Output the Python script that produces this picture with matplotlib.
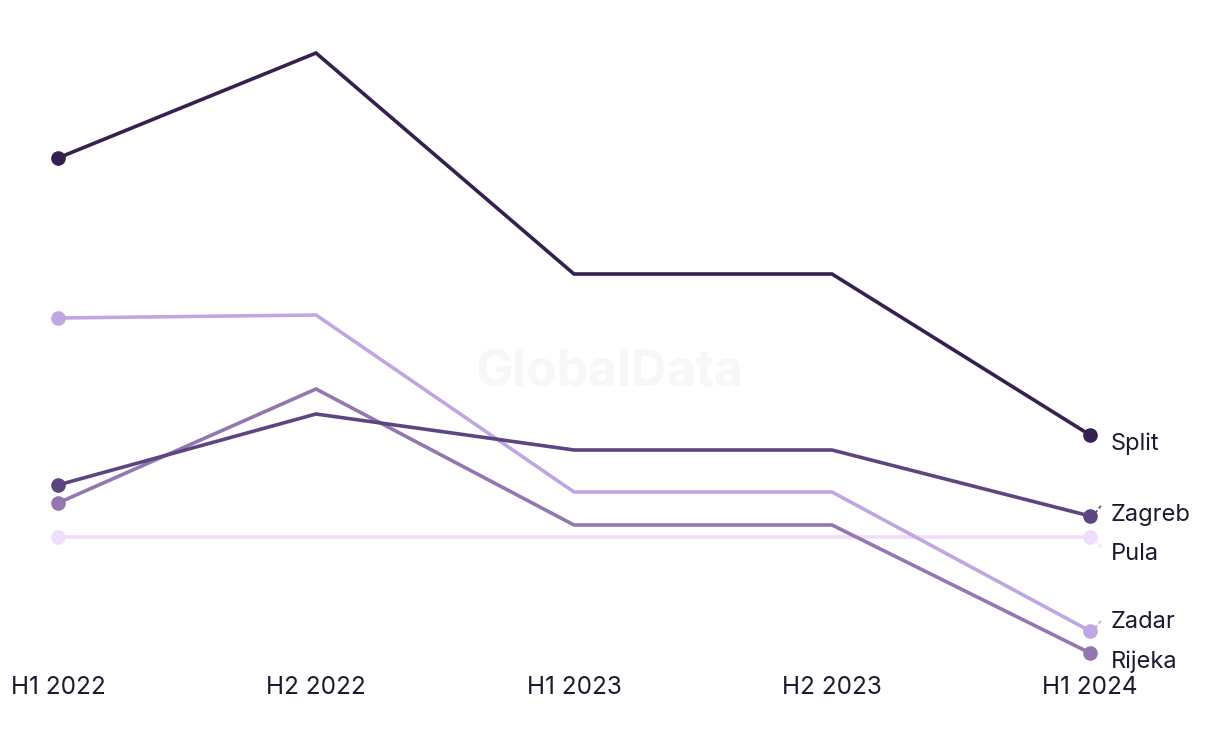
import matplotlib.pyplot as plt

plt.rcParams['font.family'] = ['Inter', 'DejaVu Sans']

periods = ['H1 2022', 'H2 2022', 'H1 2023', 'H2 2023', 'H1 2024']
cities = ['Pula', 'Rijeka', 'Zadar', 'Zagreb', 'Split']
values = {
    'Split':  [54.2, 64.7, 42.6, 42.6, 26.5],
    'Zadar':  [38.2, 38.5, 20.8, 20.8, 6.9],
    'Zagreb': [21.5, 28.6, 25.0, 25.0, 18.4],
    'Rijeka': [19.7, 31.1, 17.5, 17.5, 4.7],
    'Pula':   [16.3, 16.3, 16.3, 16.3, 16.3],
}
colors = {
    'Split': '#35204f',
    'Zagreb': '#5d4580',
    'Rijeka': '#9277b0',
    'Zadar': '#c0a6e2',
    'Pula': '#f0dcfb',
}
# label placement (data units) at the right end, to avoid overlaps
label_y = {'Split': 25.9, 'Zagreb': 18.8, 'Pula': 14.9, 'Zadar': 8.1, 'Rijeka': 4.1}
leaders = ['Zagreb', 'Pula', 'Zadar']

fig = plt.figure(figsize=(12.2, 7.44), dpi=100)
ax = fig.add_axes([0, 79 / 744, 1, 665 / 744])

x = list(range(len(periods)))
for c in cities:
    ax.plot(x, values[c], color=colors[c], lw=2.6, marker='o', ms=9.5,
            markevery=[0, len(x) - 1], solid_joinstyle='miter', zorder=3)
    y_end = values[c][-1]
    ly = label_y[c] - 0.25
    if c in leaders:
        sgn = 1 if ly > y_end else -1
        ax.plot([x[-1] + 0.02, x[-1] + 0.048], [y_end + sgn * 0.3, y_end + sgn * 1.2],
                color=colors[c], lw=1.2, ls=(0, (2, 1.5)), zorder=2)
    ax.text(x[-1] + 0.08, ly, c, fontsize=17, color='#1b1b2f', va='center', ha='left')

ax.text(2.14, 32.7, 'GlobalData', fontsize=36, fontweight='bold', color='#f7f7f7',
        ha='center', va='center', zorder=0)

ax.set_xlim(-58 / 258, 4 + 130 / 258)
ax.set_ylim(3.5, 70)
ax.set_xticks(x)
ax.set_xticklabels(periods, fontsize=17.5, color='#1b1b2f')
ax.tick_params(axis='x', length=0, pad=8)
ax.set_yticks([])
for s in ax.spines.values():
    s.set_visible(False)

fig.savefig('out.png', dpi=100)
